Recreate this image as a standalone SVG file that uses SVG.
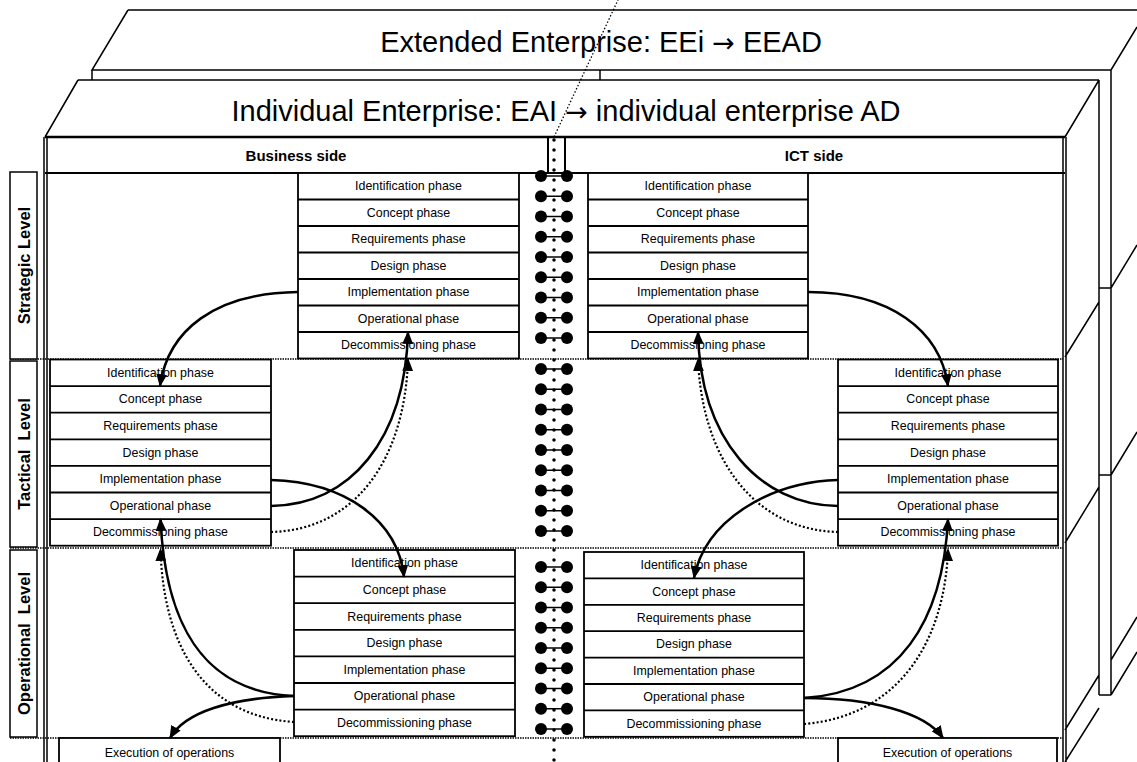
<svg xmlns="http://www.w3.org/2000/svg" xmlns:xlink="http://www.w3.org/1999/xlink" width="1137" height="762" viewBox="0 0 1137 762">
<style>
.ln{fill:none;stroke:#000;stroke-width:1.5}
.thick{fill:none;stroke:#000;stroke-width:2.5}
.box{fill:#fff;stroke:#000;stroke-width:1.8}
.sep{fill:none;stroke:#000;stroke-width:1.3;stroke-dasharray:1.5 1}
.t{font-family:"Liberation Sans",Arial,sans-serif;font-size:12.4px;text-anchor:middle;dominant-baseline:central;fill:#000}
.hd{font-family:"Liberation Sans",Arial,sans-serif;font-size:15px;font-weight:bold;text-anchor:middle;dominant-baseline:central;fill:#000}
.lv{font-family:"Liberation Sans",Arial,sans-serif;font-size:16.5px;font-weight:bold;text-anchor:middle;dominant-baseline:central;fill:#000;white-space:pre}
.ttl{font-family:"Liberation Sans",Arial,sans-serif;font-size:29px;text-anchor:middle;fill:#000}
.ar{font-family:"DejaVu Sans",sans-serif;font-size:27px}
.arr{fill:none;stroke:#000;stroke-width:2.5;marker-end:url(#ah)}
.dot{fill:none;stroke:#000;stroke-width:2.2;stroke-dasharray:2 2.2;marker-end:url(#ah)}
</style>
<defs>
<marker id="ah" viewBox="0 0 12 10" refX="11" refY="5" markerWidth="13" markerHeight="11" markerUnits="userSpaceOnUse" orient="auto"><path d="M0,0 L12,5 L0,10 z" fill="#000"/></marker>
<g id="dumb"><line x1="541" y1="0" x2="567" y2="0" stroke="#000" stroke-width="1.5"/><circle cx="541" cy="0" r="6" fill="#000"/><circle cx="567" cy="0" r="6" fill="#000"/></g>
</defs>
<rect width="1137" height="762" fill="#fff"/>

<g id="extended-enterprise">
<path class="ln" d="M128,10 L1137,10 M128,10 L92,70 L1111,70 M92,70 L92,80 M600,70 L600,80 M1111,70 L1137,27 M1111,70 L1111,695 M1099,695 L1111,695 M1099,288 L1111,288 M1099,475 L1111,475 M1111,288 L1137,245 M1111,475 L1137,432 M1111,660 L1137,617 M1111,695 L1137,652"/>
<text class="ttl" x="601" y="52">Extended Enterprise: EEi <tspan class="ar">→</tspan> EEAD</text>
</g>

<g id="individual-enterprise">
<path class="ln" d="M78,80 L1099,80 M78,80 L45,137 M1099,80 L1065,137 M1099,80 L1099,695 M44,137 L44,762 M47,137 L47,762 M1063,137 L1063,762 M1066,137 L1066,762 M1065,357 L1099,302 M1065,543 L1099,487 M1065,730 L1099,675 M1065,762 L1099,708"/>
<text class="ttl" x="566" y="121">Individual Enterprise: EAI <tspan class="ar">→</tspan> individual enterprise AD</text>
<path class="thick" d="M45,137 L1065,137"/>
<path class="ln" d="M45,173 L1065,173 M548,137 L548,173 M565,137 L565,173" style="stroke-width:2"/>
<text class="hd" x="296" y="155">Business side</text>
<text class="hd" x="814" y="155">ICT side</text>
</g>

<g id="levels">
<path class="sep" d="M10,359 L1063,359 M10,548 L1063,548 M10,738 L1063,738"/>
<rect class="box" x="10" y="172" width="27" height="187" style="stroke-width:1.5"/>
<rect class="box" x="10" y="361" width="27" height="186" style="stroke-width:1.5"/>
<rect class="box" x="10" y="550" width="27" height="187" style="stroke-width:1.5"/>
<text class="lv" transform="translate(24,265.5) rotate(-90)">Strategic Level</text>
<text class="lv" transform="translate(24,454) rotate(-90)">Tactical  Level</text>
<text class="lv" transform="translate(24,643.5) rotate(-90)">Operational  Level</text>
</g>

<g id="center-link">
<path d="M554,137 L618,0" fill="none" stroke="#000" stroke-width="1.3" stroke-dasharray="1.5 2"/>
<path d="M554,140 L554,762" fill="none" stroke="#000" stroke-width="3.5" stroke-linecap="round" stroke-dasharray="0 10"/>
<use href="#dumb" y="176"/><use href="#dumb" y="196.25"/><use href="#dumb" y="216.5"/><use href="#dumb" y="236.75"/><use href="#dumb" y="257"/><use href="#dumb" y="277.25"/><use href="#dumb" y="297.5"/><use href="#dumb" y="317.75"/><use href="#dumb" y="338"/>
<use href="#dumb" y="369"/><use href="#dumb" y="389.25"/><use href="#dumb" y="409.5"/><use href="#dumb" y="429.75"/><use href="#dumb" y="450"/><use href="#dumb" y="470.25"/><use href="#dumb" y="490.5"/><use href="#dumb" y="510.75"/><use href="#dumb" y="531"/>
<use href="#dumb" y="567"/><use href="#dumb" y="587.25"/><use href="#dumb" y="607.5"/><use href="#dumb" y="627.75"/><use href="#dumb" y="648"/><use href="#dumb" y="668.25"/><use href="#dumb" y="688.5"/><use href="#dumb" y="708.75"/><use href="#dumb" y="729"/>
</g>

<g id="strategic-business">
<rect class="box" x="298" y="173" width="221" height="185.5"/>
<path class="ln" style="stroke-width:1.8" d="M298,199.5 H519 M298,226 H519 M298,252.5 H519 M298,279 H519 M298,305.5 H519 M298,332 H519"/>
<text class="t" x="408.5" y="186.25">Identification phase</text>
<text class="t" x="408.5" y="212.75">Concept phase</text>
<text class="t" x="408.5" y="239.25">Requirements phase</text>
<text class="t" x="408.5" y="265.75">Design phase</text>
<text class="t" x="408.5" y="292.25">Implementation phase</text>
<text class="t" x="408.5" y="318.75">Operational phase</text>
<text class="t" x="408.5" y="345.25">Decommissioning phase</text>
</g>

<g id="strategic-ict">
<rect class="box" x="588" y="173" width="220" height="185.5"/>
<path class="ln" style="stroke-width:1.8" d="M588,199.5 H808 M588,226 H808 M588,252.5 H808 M588,279 H808 M588,305.5 H808 M588,332 H808"/>
<text class="t" x="698" y="186.25">Identification phase</text>
<text class="t" x="698" y="212.75">Concept phase</text>
<text class="t" x="698" y="239.25">Requirements phase</text>
<text class="t" x="698" y="265.75">Design phase</text>
<text class="t" x="698" y="292.25">Implementation phase</text>
<text class="t" x="698" y="318.75">Operational phase</text>
<text class="t" x="698" y="345.25">Decommissioning phase</text>
</g>

<g id="tactical-business">
<rect class="box" x="50" y="359.5" width="221" height="186.2"/>
<path class="ln" style="stroke-width:1.8" d="M50,386.1 H271 M50,412.7 H271 M50,439.3 H271 M50,465.9 H271 M50,492.5 H271 M50,519.1 H271"/>
<text class="t" x="160.5" y="372.8">Identification phase</text>
<text class="t" x="160.5" y="399.4">Concept phase</text>
<text class="t" x="160.5" y="426">Requirements phase</text>
<text class="t" x="160.5" y="452.6">Design phase</text>
<text class="t" x="160.5" y="479.2">Implementation phase</text>
<text class="t" x="160.5" y="505.8">Operational phase</text>
<text class="t" x="160.5" y="532.4">Decommissioning phase</text>
</g>

<g id="tactical-ict">
<rect class="box" x="838" y="359.5" width="220" height="186.2"/>
<path class="ln" style="stroke-width:1.8" d="M838,386.1 H1058 M838,412.7 H1058 M838,439.3 H1058 M838,465.9 H1058 M838,492.5 H1058 M838,519.1 H1058"/>
<text class="t" x="948" y="372.8">Identification phase</text>
<text class="t" x="948" y="399.4">Concept phase</text>
<text class="t" x="948" y="426">Requirements phase</text>
<text class="t" x="948" y="452.6">Design phase</text>
<text class="t" x="948" y="479.2">Implementation phase</text>
<text class="t" x="948" y="505.8">Operational phase</text>
<text class="t" x="948" y="532.4">Decommissioning phase</text>
</g>

<g id="operational-business">
<rect class="box" x="294" y="550" width="221" height="186.2"/>
<path class="ln" style="stroke-width:1.8" d="M294,576.6 H515 M294,603.2 H515 M294,629.8 H515 M294,656.4 H515 M294,683 H515 M294,709.6 H515"/>
<text class="t" x="404.5" y="563.3">Identification phase</text>
<text class="t" x="404.5" y="589.9">Concept phase</text>
<text class="t" x="404.5" y="616.5">Requirements phase</text>
<text class="t" x="404.5" y="643.1">Design phase</text>
<text class="t" x="404.5" y="669.7">Implementation phase</text>
<text class="t" x="404.5" y="696.3">Operational phase</text>
<text class="t" x="404.5" y="722.9">Decommissioning phase</text>
</g>

<g id="operational-ict">
<rect class="box" x="584" y="552" width="220" height="184.8"/>
<path class="ln" style="stroke-width:1.8" d="M584,578.4 H804 M584,604.8 H804 M584,631.2 H804 M584,657.6 H804 M584,684 H804 M584,710.4 H804"/>
<text class="t" x="694" y="565.2">Identification phase</text>
<text class="t" x="694" y="591.6">Concept phase</text>
<text class="t" x="694" y="618">Requirements phase</text>
<text class="t" x="694" y="644.4">Design phase</text>
<text class="t" x="694" y="670.8">Implementation phase</text>
<text class="t" x="694" y="697.2">Operational phase</text>
<text class="t" x="694" y="723.6">Decommissioning phase</text>
</g>

<g id="execution-business">
<rect class="box" x="59" y="738" width="221" height="30"/>
<text class="t" x="169.5" y="753">Execution of operations</text>
</g>
<g id="execution-ict">
<rect class="box" x="838" y="738" width="219" height="30"/>
<text class="t" x="947.5" y="753">Execution of operations</text>
</g>

<g id="connectors">
<path class="arr" d="M298,292 C215,293 168,330 160,386"/>
<path class="arr" d="M271,506 C350,505 405,440 408,332"/>
<path class="dot" d="M271,532 C355,530 405,460 408,359"/>
<path class="arr" d="M271,480 C345,482 398,520 404,577"/>
<path class="arr" d="M294,696 C200,692 165,620 160.5,519"/>
<path class="dot" d="M294,722 C200,716 163,640 160.5,549"/>
<path class="arr" d="M294,696 C230,698 185,712 170,738"/>
<path class="arr" d="M808,292 C890,292 940,330 948,386"/>
<path class="arr" d="M838,506 C760,505 700,440 698,332"/>
<path class="dot" d="M838,532 C755,530 702,460 698,359"/>
<path class="arr" d="M838,480 C770,482 705,520 694,578"/>
<path class="arr" d="M804,698 C900,692 943,620 948,519"/>
<path class="dot" d="M804,724 C900,716 945,640 948,549"/>
<path class="arr" d="M804,698 C870,698 925,712 943,738"/>
</g>
</svg>
